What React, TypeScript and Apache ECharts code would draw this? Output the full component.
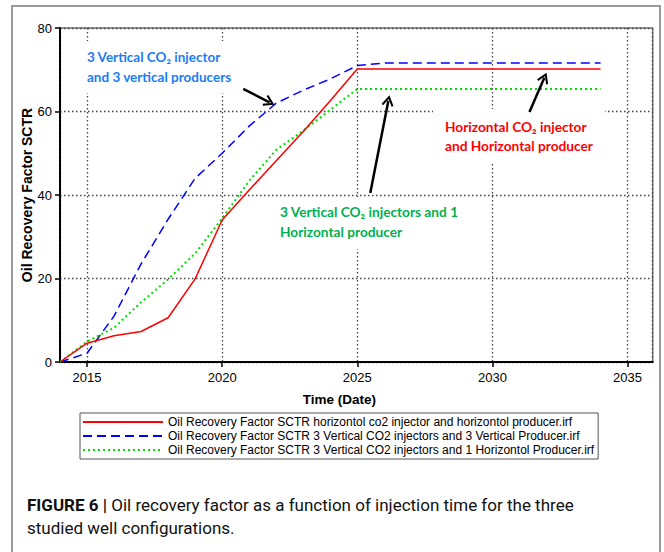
import React, { useEffect, useRef } from "react";
import * as echarts from "echarts";

const years = [2014, 2015, 2016, 2017, 2018, 2019, 2020, 2021, 2022, 2023, 2024, 2025, 2026, 2027, 2028, 2029, 2030, 2031, 2032, 2033, 2034];
const horizontal = [0, 4.5, 6.3, 7.3, 10.6, 19.9, 34.0, 41.2, 48.2, 55.2, 62.6, 70.2, 70.2, 70.2, 70.2, 70.2, 70.2, 70.2, 70.2, 70.2, 70.2];
const vertical3 = [0, 2.1, 11.0, 23.5, 34.2, 44.0, 50.0, 56.5, 62.0, 65.1, 67.8, 71.0, 71.6, 71.6, 71.6, 71.6, 71.6, 71.6, 71.6, 71.6, 71.6];
const vertical1h = [0, 4.9, 8.2, 14.3, 19.8, 26.0, 34.4, 43.4, 50.8, 55.4, 60.4, 65.4, 65.4, 65.4, 65.4, 65.4, 65.4, 65.4, 65.4, 65.4, 65.4];

const seriesNames = [
  "Oil Recovery Factor SCTR horizontol co2 injector and horizontol producer.irf",
  "Oil Recovery Factor SCTR 3 Vertical CO2 injectors and 3 Vertical Producer.irf",
  "Oil Recovery Factor SCTR 3 Vertical CO2 injectors and 1 Horizontol Producer.irf",
];

// arrows in data coordinates: [start, end]
const arrows: [number, number][][] = [
  [[2020.78, 65.4], [2021.75, 62.2]],
  [[2031.37, 59.9], [2031.92, 68.1]],
  [[2025.48, 40.5], [2026.15, 62.6]],
];

const chevron = "path://M5,0 L10,8 L8.6,9 L5,3.2 L1.4,9 L0,8 Z";

const pairs = (vals: number[]) => years.map((y, i) => [y, vals[i]]);

export default function App() {
  const ref = useRef<HTMLDivElement>(null);
  useEffect(() => {
    if (!ref.current) return;
    const chart = echarts.init(ref.current, undefined, { renderer: "svg" });
    const font = "Liberation Sans, Arial, sans-serif";
    const annFont = "Lato, Calibri, sans-serif";
    chart.setOption({
      animation: false,
      backgroundColor: "#fff",
      grid: {
        left: 60,
        top: 28,
        right: 11.3,
        bottom: 190,
        show: true,
        borderColor: "#707070",
        borderWidth: 1.5,
        containLabel: false,
      },
      xAxis: {
        type: "value",
        min: 2014,
        max: 2035.93,
        minInterval: 5,
        maxInterval: 5,
        name: "Time (Date)",
        nameLocation: "middle",
        nameGap: 30,
        nameMoveOverlap: false,
        nameTextStyle: { fontFamily: font, fontWeight: "bold", fontSize: 13.5, color: "#000", padding: [0, 34, 0, 0] },
        axisLine: { show: true, lineStyle: { color: "#000", width: 2 } },
        axisTick: { show: true, length: 5, lineStyle: { color: "#000", width: 1.5 } },
        axisLabel: {
          showMinLabel: false,
          showMaxLabel: false,
          margin: 9,
          fontFamily: font,
          fontSize: 13,
          color: "#000",
          formatter: (v: number) => String(Math.round(v)),
        },
        splitLine: { show: true, lineStyle: { color: "#444", width: 1.3, type: [1.5, 2.5] } },
      },
      yAxis: {
        type: "value",
        min: 0,
        max: 80,
        interval: 20,
        name: "Oil Recovery Factor SCTR",
        nameLocation: "middle",
        nameGap: 26,
        nameMoveOverlap: false,
        nameTextStyle: { fontFamily: font, fontWeight: "bold", fontSize: 14, color: "#000" },
        axisLine: { show: true, lineStyle: { color: "#000", width: 2 } },
        axisTick: { show: true, length: 5, lineStyle: { color: "#000", width: 1.5 } },
        axisLabel: { margin: 8, fontFamily: font, fontSize: 13, color: "#000" },
        splitLine: { show: true, lineStyle: { color: "#444", width: 1.3, type: [1.5, 2.5] } },
      },
      legend: {
        data: seriesNames,
        orient: "vertical",
        left: 80,
        top: 413,
        itemWidth: 80,
        itemHeight: 14,
        itemGap: 0,
        padding: [2, 4, 2, 2],
        borderColor: "#555",
        borderWidth: 1,
        selectedMode: false,
        itemStyle: { color: "transparent", borderWidth: 0, opacity: 0 },
        textStyle: { fontFamily: font, fontSize: 12, lineHeight: 14, color: "#000" },
      },
      series: [
        {
          name: seriesNames[0],
          type: "line",
          data: pairs(horizontal),
          symbol: "none",
          showSymbol: false,
          z: 4,
          lineStyle: { color: "#ff0000", width: 1.5, type: "solid" },
          itemStyle: { color: "#ff0000" },
          markLine: {
            silent: true,
            symbol: ["none", chevron],
            symbolSize: [12, 11],
            label: { show: false },
            lineStyle: { color: "#000", width: 2.5, type: "solid" },
            emphasis: { disabled: true },
            data: arrows.map(([a, b]) => [{ coord: a }, { coord: b }]),
          },
        },
        {
          name: seriesNames[1],
          type: "line",
          data: pairs(vertical3),
          symbol: "none",
          showSymbol: false,
          z: 3,
          lineStyle: { color: "#0000ff", width: 1.5, type: [9, 5] },
          itemStyle: { color: "#0000ff" },
        },
        {
          name: seriesNames[2],
          type: "line",
          data: pairs(vertical1h),
          symbol: "none",
          showSymbol: false,
          z: 3,
          lineStyle: { color: "#00dd00", width: 2, type: [2, 3] },
          itemStyle: { color: "#00dd00" },
        },
      ],
      graphic: [
        {
          type: "rect",
          z: 0,
          shape: { x: 12, y: 6, width: 648, height: 560 },
          style: { fill: "none", stroke: "#9a9a9a", lineWidth: 2 },
        },
        {
          type: "text",
          z: 1,
          x: 79,
          y: 41,
          style: {
            text: "3 Vertical CO\u2082 injector\nand 3 vertical producers",
            font: `bold 13.5px ${annFont}`,
            fill: "#1a7cf5",
            lineHeight: 20,
            verticalAlign: "top",
            backgroundColor: "#fff",
            padding: [6, 8, 6, 8],
          },
        },
        {
          type: "text",
          z: 1,
          x: 433,
          y: 109,
          style: {
            text: "Horizontal CO\u2082 injector\nand Horizontal producer",
            font: `bold 13.7px ${annFont}`,
            fill: "#ff0000",
            lineHeight: 19,
            verticalAlign: "top",
            backgroundColor: "#fff",
            padding: [8, 12, 8, 12],
          },
        },
        {
          type: "text",
          z: 1,
          x: 272,
          y: 197,
          style: {
            text: "3 Vertical CO\u2082 injectors and 1\nHorizontal producer",
            font: `bold 13.7px ${annFont}`,
            fill: "#00b050",
            lineHeight: 20,
            verticalAlign: "top",
            backgroundColor: "#fff",
            padding: [4, 8, 8, 8],
          },
        },
        {
          type: "text",
          x: 27,
          y: 505,
          style: {
            text: "{b|FIGURE 6 |} Oil recovery factor as a function of injection time for the three",
            font: "17px Roboto, sans-serif",
            fill: "#111",
            verticalAlign: "middle",
            rich: { b: { font: "bold 17px Roboto, sans-serif", fill: "#111" } },
          },
        },
        {
          type: "text",
          x: 27,
          y: 528,
          style: {
            text: "studied well configurations.",
            font: "17px Roboto, sans-serif",
            fill: "#111",
            verticalAlign: "middle",
          },
        },
      ],
    });
    return () => chart.dispose();
  }, []);
  return <div ref={ref} style={{ position: "fixed", left: 0, top: 0, width: 664, height: 552 }} />;
}
